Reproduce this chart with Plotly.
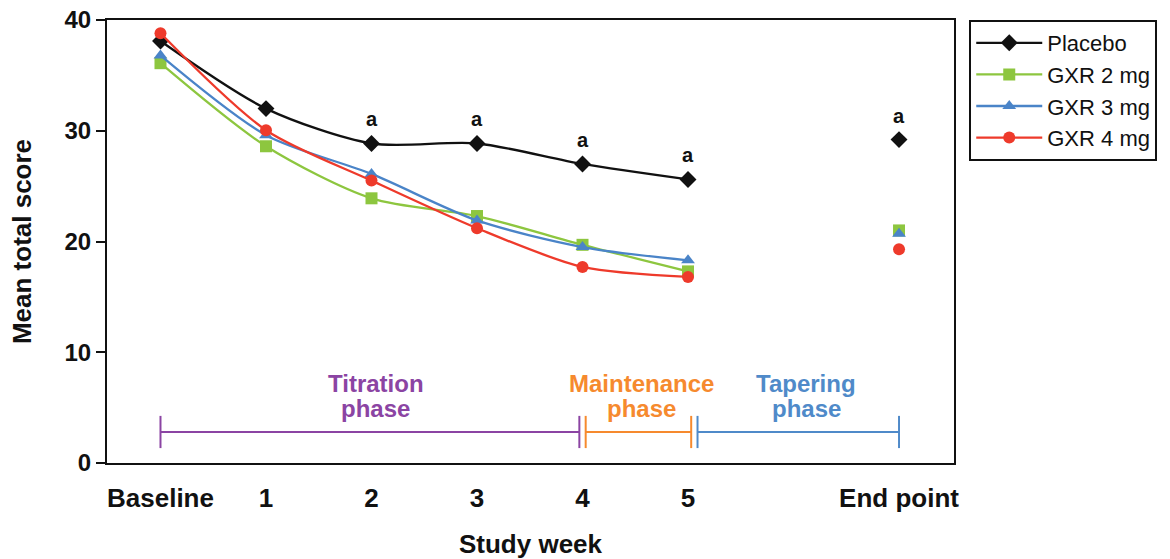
import plotly.graph_objects as go

# ---- data ----
weeks = [0, 1, 2, 3, 4, 5]
endpoint_x = 7
tick_vals = [0, 1, 2, 3, 4, 5, 7]
tick_text = ["Baseline", "1", "2", "3", "4", "5", "End point"]

placebo = [38.1, 32.0, 28.85, 28.85, 27.0, 25.6]
gxr2 = [36.1, 28.6, 23.9, 22.3, 19.7, 17.3]
gxr3 = [36.8, 29.6, 26.1, 21.9, 19.5, 18.3]
gxr4 = [38.8, 30.05, 25.5, 21.2, 17.7, 16.8]

placebo_end = 29.2
gxr2_end = 21.0
gxr3_end = 20.7
gxr4_end = 19.3

sig_x = [2, 3, 4, 5, 7]
sig_y = [28.85, 28.85, 27.0, 25.6, 29.2]
sig_label = "a"

phase_names = [["Titration", "phase"], ["Maintenance", "phase"], ["Tapering", "phase"]]
phase_start = [0.0, 4.03, 5.09]
phase_end = [3.97, 5.03, 7.0]
phase_label_x = [2.04, 4.56, 6.12]
phase_bar_y = 2.8
phase_label_y = [7.2, 4.9]

FONT = "Liberation Sans"

series = [
    ("Placebo", placebo, placebo_end, "#111111", "diamond", 13),
    ("GXR 2 mg", gxr2, gxr2_end, "#8DC63F", "square", 12),
    ("GXR 3 mg", gxr3, gxr3_end, "#4A84C8", "triangle-up", 12),
    ("GXR 4 mg", gxr4, gxr4_end, "#EE3A2B", "circle", 12),
]
phase_colors = ["#8B44A3", "#F68A2E", "#4F8AC9"]

fig = go.Figure()

for name, vals, endv, col, sym, sz in series:
    fig.add_trace(go.Scatter(
        x=weeks, y=vals, name=name, mode="lines+markers",
        line=dict(color=col, width=2.3, shape="spline", smoothing=0.8),
        marker=dict(color=col, symbol=sym, size=sz),
        legendgroup=name,
    ))
    fig.add_trace(go.Scatter(
        x=[endpoint_x], y=[endv], mode="markers", showlegend=False,
        marker=dict(color=col, symbol=sym, size=sz), legendgroup=name,
    ))

for i, (s, e) in enumerate(zip(phase_start, phase_end)):
    c = phase_colors[i]
    fig.add_trace(go.Scatter(
        x=[s, e], y=[phase_bar_y, phase_bar_y], mode="lines+markers",
        showlegend=False, hoverinfo="skip",
        line=dict(color=c, width=2),
        marker=dict(symbol="line-ns", size=23, line=dict(color=c, width=2)),
    ))
    for j, txt in enumerate(phase_names[i]):
        fig.add_annotation(
            x=phase_label_x[i], y=phase_label_y[j], text=txt, showarrow=False,
            font=dict(family=FONT, size=24, color=c, weight="bold"),
            xanchor="center", yanchor="middle",
        )

for xv, yv in zip(sig_x, sig_y):
    fig.add_annotation(
        x=xv, y=yv, text=sig_label, showarrow=False, yshift=24,
        font=dict(family=FONT, size=20, color="#111111", weight="bold"),
        xanchor="center", yanchor="middle",
    )

fig.update_layout(
    width=1170, height=559,
    margin=dict(l=107, r=216, t=20, b=96),
    paper_bgcolor="white", plot_bgcolor="white",
    font=dict(family=FONT, color="#111111"),
    legend=dict(
        x=1.018, y=1.0, xanchor="left", yanchor="top",
        bordercolor="#111111", borderwidth=2,
        font=dict(family=FONT, size=22, color="#111111"),
        itemwidth=66, tracegroupgap=0,
    ),
    xaxis=dict(
        range=[-0.507, 7.521], tickvals=tick_vals, ticktext=tick_text,
        showgrid=False, zeroline=False, showline=True, mirror=True,
        linecolor="#111111", linewidth=2, ticks="", automargin=False,
        ticklabelstandoff=11,
        tickfont=dict(family=FONT, size=26, weight="bold", color="#111111"),
        title=dict(text="Study week", standoff=25,
                   font=dict(family=FONT, size=26, weight="bold", color="#111111")),
    ),
    yaxis=dict(
        range=[0, 40], tickvals=[0, 10, 20, 30, 40], automargin=False,
        showgrid=False, zeroline=False, showline=True, mirror=True,
        linecolor="#111111", linewidth=2, ticks="outside", ticklen=9,
        tickwidth=2, tickcolor="#111111",
        tickfont=dict(family=FONT, size=24, weight="bold", color="#111111"),
        title=dict(text="Mean total score", standoff=25,
                   font=dict(family=FONT, size=26, weight="bold", color="#111111")),
    ),
)

fig.write_html(
    "out.html",
    config={"displayModeBar": False},
    post_script="document.body.style.margin='0px';document.body.style.overflow='hidden';",
)
